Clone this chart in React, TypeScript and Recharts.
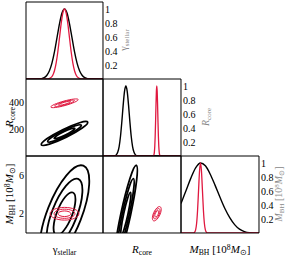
import React from 'react';
import { ComposedChart, Line, XAxis, YAxis } from 'recharts';

const W = 287;
const H = 257;
const COLS = [26, 103, 181, 259];
const ROWS = [2, 79, 156, 233];
const FONT = "'Liberation Serif', 'Times New Roman', serif";
const RED = '#e0183f';
const EPS = 0.01;

type P = [number, number];

// ---- domains & ticks ----
const gammaDomain: [number, number] = [0.954, 1.046];
const rcoreDomain: [number, number] = [0, 580];
const mbhDomain: [number, number] = [0, 8];
const densDomain: [number, number] = [0, 1.1];

const gammaLabels = [0.97, 1, 1.03];
const gammaMajor = [0.97, 1, 1.03];
const gammaMinor = [0.955, 0.96, 0.965, 0.97, 0.975, 0.98, 0.985, 0.99, 0.995, 1, 1.005, 1.01, 1.015, 1.02, 1.025, 1.03, 1.035, 1.04, 1.045];
const rcoreLabels = [200, 400];
const rcoreMajor = [200, 400];
const rcoreMinor = [25, 50, 75, 100, 125, 150, 175, 200, 225, 250, 275, 300, 325, 350, 375, 400, 425, 450, 475, 500, 525, 550, 575];
const mbhLabels = [2, 6];
const mbhMajor = [2, 4, 6];
const mbhMinor = [0.5, 1, 1.5, 2, 2.5, 3, 3.5, 4, 4.5, 5, 5.5, 6, 6.5, 7, 7.5];
const densLabels = [0.2, 0.4, 0.6, 0.8, 1];
const densMajor = [0.2, 0.4, 0.6, 0.8, 1];
const densMinor = [0.05, 0.1, 0.15, 0.2, 0.25, 0.3, 0.35, 0.4, 0.45, 0.5, 0.55, 0.6, 0.65, 0.7, 0.75, 0.8, 0.85, 0.9, 0.95, 1, 1.05];

// ---- marginal curves ----
const gammaBlack: P[] = [[0.954, 0], [0.97, 0.0026], [0.975, 0.016], [0.979, 0.054], [0.982, 0.118], [0.985, 0.226], [0.988, 0.386], [0.991, 0.586], [0.994, 0.788], [0.997, 0.942], [1.0, 1.0], [1.003, 0.942], [1.006, 0.788], [1.009, 0.586], [1.012, 0.386], [1.015, 0.226], [1.018, 0.118], [1.021, 0.054], [1.025, 0.016], [1.03, 0.0026], [1.046, 0]];
const gammaRed: P[] = [[0.954, 0], [0.98, 0.003], [0.983, 0.014], [0.986, 0.054], [0.988, 0.118], [0.99, 0.226], [0.992, 0.386], [0.994, 0.586], [0.996, 0.788], [0.998, 0.942], [1, 1], [1.002, 0.942], [1.004, 0.788], [1.006, 0.586], [1.008, 0.386], [1.01, 0.226], [1.012, 0.118], [1.014, 0.054], [1.017, 0.014], [1.02, 0.003], [1.046, 0]];
const rcoreBlack: P[] = [[0, 0], [85, 0.003], [100, 0.02], [110, 0.056], [120, 0.135], [130, 0.278], [140, 0.487], [150, 0.726], [160, 0.923], [170, 1], [180, 0.923], [190, 0.726], [200, 0.487], [210, 0.278], [220, 0.135], [230, 0.056], [240, 0.02], [255, 0.003], [580, 0]];
const rcoreRed: P[] = [[0, 0], [375, 0.004], [379, 0.02], [382, 0.056], [385, 0.135], [388, 0.278], [391, 0.487], [394, 0.726], [397, 0.923], [400, 1], [403, 0.923], [406, 0.726], [409, 0.487], [412, 0.278], [415, 0.135], [418, 0.056], [421, 0.02], [425, 0.004], [580, 0]];
const mbhBlack: P[] = [[0, 0.42], [0.5, 0.6], [1, 0.78], [1.5, 0.93], [2, 1], [2.5, 0.96], [3, 0.84], [3.5, 0.68], [4, 0.51], [4.5, 0.35], [5, 0.22], [5.5, 0.12], [6, 0.055], [6.5, 0.02], [7, 0.005], [8, 0]];
const mbhRed: P[] = [[0, 0], [1.3, 0.002], [1.4, 0.011], [1.5, 0.044], [1.6, 0.135], [1.7, 0.325], [1.8, 0.607], [1.9, 0.883], [2, 1], [2.1, 0.883], [2.2, 0.607], [2.3, 0.325], [2.4, 0.135], [2.5, 0.044], [2.6, 0.011], [2.7, 0.002], [8, 0]];

// ---- contours: gamma vs Rcore ----
const gRBlack: P[][] = [
  [[1.03068, 264.98], [1.02341, 215.05], [1.00244, 138.74], [0.98003, 80.75], [0.96932, 75.02], [0.97659, 124.95], [0.99756, 201.26], [1.01997, 259.25]],
  [[1.02221, 238.77], [1.01695, 202.62], [1.00176, 147.37], [0.98554, 105.38], [0.97779, 101.23], [0.98305, 137.38], [0.99824, 192.63], [1.01446, 234.62]],
  [[1.01356, 211.98], [1.01035, 189.91], [1.00108, 156.18], [0.99117, 130.55], [0.98644, 128.02], [0.98965, 150.09], [0.99892, 183.82], [1.00883, 209.45]],
];
const gRRed: P[][] = [
  [[1.01814, 428.51], [1.01339, 406.28], [1.0008, 378.61], [0.98774, 361.72], [0.98186, 365.49], [0.98661, 387.72], [0.9992, 415.39], [1.01226, 432.28]],
  [[1.01313, 419.81], [1.0097, 403.72], [1.00058, 383.69], [0.99113, 371.46], [0.98687, 374.19], [0.9903, 390.28], [0.99942, 410.31], [1.00887, 422.54]],
  [[1.00802, 410.93], [1.00592, 401.1], [1.00036, 388.87], [0.99458, 381.41], [0.99198, 383.07], [0.99408, 392.9], [0.99964, 405.13], [1.00542, 412.59]],
];
// ---- contours: gamma vs MBH ----
const gMBlack: P[][] = [
  [[1.02495, 7.533], [1.03269, 5.398], [1.02129, 1.2737], [0.99741, -2.425], [0.97505, -3.533], [0.96731, -1.398], [0.97871, 2.7263], [1.00259, 6.425]],
  [[1.01806, 6.006], [1.02367, 4.46], [1.01541, 1.4742], [0.99813, -1.204], [0.98194, -2.006], [0.97633, -0.46], [0.98459, 2.5258], [1.00187, 5.204]],
  [[1.01103, 4.4456], [1.01445, 3.5019], [1.00941, 1.679], [0.99886, 0.0441], [0.98897, -0.4456], [0.98555, 0.4981], [0.99059, 2.321], [1.00114, 3.9559]],
];
const gMRed: P[][] = [
  [[1.01906, 2.0], [1.01348, 2.5172], [1.0, 2.7315], [0.98652, 2.5172], [0.98094, 2.0], [0.98652, 1.4828], [1.0, 1.2685], [1.01348, 1.4828]],
  [[1.0138, 2.0], [1.00976, 2.3745], [1.0, 2.5296], [0.99024, 2.3745], [0.9862, 2.0], [0.99024, 1.6255], [1.0, 1.4704], [1.00976, 1.6255]],
  [[1.00843, 2.0], [1.00596, 2.2286], [1.0, 2.3233], [0.99404, 2.2286], [0.99157, 2.0], [0.99404, 1.7714], [1.0, 1.6767], [1.00596, 1.7714]],
];
// ---- contours: Rcore vs MBH ----
const rMBlack: P[][] = [
  [[256.0, 7.581], [258.7, 5.862], [209.4, 1.881], [137.1, -2.03], [84.0, -3.581], [81.3, -1.862], [130.6, 2.119], [202.9, 6.03]],
  [[232.27, 6.041], [234.2, 4.796], [198.54, 1.914], [146.15, -0.918], [107.73, -2.041], [105.8, -0.796], [141.46, 2.086], [193.85, 4.918]],
  [[208.02, 4.467], [209.2, 3.707], [187.42, 1.948], [155.44, 0.219], [131.98, -0.467], [130.8, 0.293], [152.58, 2.052], [184.56, 3.781]],
];
const rMRed: P[][] = [
  [[427.22, 2.8099], [436.52, 2.4593], [424.43, 1.8397], [398.03, 1.3141], [372.78, 1.1901], [363.48, 1.5407], [375.57, 2.1603], [401.97, 2.6859]],
  [[419.71, 2.5864], [426.44, 2.3325], [417.69, 1.8839], [398.57, 1.5034], [380.29, 1.4136], [373.56, 1.6675], [382.31, 2.1161], [401.43, 2.4966]],
  [[412.03, 2.358], [416.14, 2.203], [410.8, 1.9291], [399.13, 1.6968], [387.97, 1.642], [383.86, 1.797], [389.2, 2.0709], [400.87, 2.3032]],
];

const toPts = (a: P[]) => a.map(([x, y]) => ({ x, y }));
const tickFont = { fontSize: 10, fontFamily: FONT, fill: '#000' };

function frameAxes(xd: [number, number], yd: [number, number], xMinor: number[], xMajor: number[], yMinor: number[], yMajor: number[]) {
  const base = { type: 'number' as const, allowDataOverflow: true, stroke: '#000', interval: 0 as const, tick: false as const, mirror: true };
  return [
    <XAxis key="b1" xAxisId="b1" dataKey="x" orientation="bottom" domain={xd} ticks={xMinor} tickSize={2} height={EPS} {...base} />,
    <XAxis key="b2" xAxisId="b2" orientation="bottom" domain={xd} ticks={xMajor} tickSize={4} height={EPS} axisLine={false} {...base} />,
    <XAxis key="t1" xAxisId="t1" orientation="top" domain={xd} ticks={xMinor} tickSize={2} height={EPS} {...base} />,
    <XAxis key="t2" xAxisId="t2" orientation="top" domain={xd} ticks={xMajor} tickSize={4} height={EPS} axisLine={false} {...base} />,
    <YAxis key="l1" yAxisId="l1" dataKey="y" orientation="left" domain={yd} ticks={yMinor} tickSize={2} width={EPS} {...base} />,
    <YAxis key="l2" yAxisId="l2" orientation="left" domain={yd} ticks={yMajor} tickSize={4} width={EPS} axisLine={false} {...base} />,
    <YAxis key="r1" yAxisId="r1" orientation="right" domain={yd} ticks={yMinor} tickSize={2} width={EPS} {...base} />,
    <YAxis key="r2" yAxisId="r2" orientation="right" domain={yd} ticks={yMajor} tickSize={4} width={EPS} axisLine={false} {...base} />,
  ];
}

function labelAxis(side: 'bottom' | 'left' | 'right', d: [number, number], ticks: number[]) {
  const common = { type: 'number' as const, domain: d, ticks, interval: 0 as const, tickLine: false, axisLine: false, tickSize: 0, tick: tickFont, allowDataOverflow: true };
  if (side === 'bottom') return <XAxis key="lb" xAxisId="lb" orientation="bottom" height={EPS} tickMargin={4} {...common} />;
  if (side === 'left') return <YAxis key="ll" yAxisId="ll" orientation="left" width={EPS} tickMargin={2} {...common} />;
  return <YAxis key="lr" yAxisId="lr" orientation="right" width={EPS} tickMargin={2} {...common} />;
}

function contourLines(sets: P[][], color: string, width: number, prefix: string) {
  return sets.map((s, i) => (
    <Line key={prefix + i} data={toPts(s)} dataKey="y" xAxisId="b1" yAxisId="l1" type="basisClosed" stroke={color} strokeWidth={width} dot={false} activeDot={false} isAnimationActive={false} />
  ));
}

function curveLine(s: P[], color: string, width: number, key: string) {
  return <Line key={key} data={toPts(s)} dataKey="y" xAxisId="b1" yAxisId="l1" type="monotone" stroke={color} strokeWidth={width} dot={false} activeDot={false} isAnimationActive={false} />;
}

type PanelProps = {
  c: number; r: number;
  xd: [number, number]; yd: [number, number];
  xMinor: number[]; xMajor: number[]; yMinor: number[]; yMajor: number[];
  extra: React.ReactNode[]; lines: React.ReactNode[];
};

function Panel({ c, r, xd, yd, xMinor, xMajor, yMinor, yMajor, extra, lines }: PanelProps) {
  const left = COLS[c], right = COLS[c + 1], top = ROWS[r], bottom = ROWS[r + 1];
  return (
    <div style={{ position: 'absolute', left: 0, top: 0 }}>
      <ComposedChart width={W} height={H} margin={{ left, top, right: W - right, bottom: H - bottom }}>
        {frameAxes(xd, yd, xMinor, xMajor, yMinor, yMajor)}
        {extra}
        {lines}
      </ComposedChart>
    </div>
  );
}

const Sub = ({ children }: { children: React.ReactNode }) => (
  <span style={{ fontSize: '0.7em', position: 'relative', top: '0.3em' }}>{children}</span>
);
const Sup = ({ children }: { children: React.ReactNode }) => (
  <span style={{ fontSize: '0.7em', position: 'relative', top: '-0.4em' }}>{children}</span>
);

const gammaTitle = <>γ<Sub>stellar</Sub></>;
const rcoreTitle = <><i>R</i><Sub>core</Sub></>;
const mbhTitle = <><i>M</i><Sub>BH</Sub> [10<Sup>8</Sup><i>M</i><Sub>⊙</Sub>]</>;

const Title = ({ x, y, rot, color, size, children }: { x: number; y: number; rot: number; color: string; size: number; children: React.ReactNode }) => (
  <div style={{ position: 'absolute', left: x, top: y, transform: `translate(-50%, -50%) rotate(${rot}deg)`, whiteSpace: 'nowrap', fontFamily: FONT, fontSize: size, color, lineHeight: 1 }}>
    {children}
  </div>
);

export default function App() {
  return (
    <div style={{ position: 'absolute', left: 0, top: 0, width: W, height: H, background: '#fff', overflow: 'hidden' }}>
      <Panel c={0} r={0} xd={gammaDomain} yd={densDomain} xMinor={gammaMinor} xMajor={gammaMajor} yMinor={densMinor} yMajor={densMajor}
        extra={[labelAxis('right', densDomain, densLabels)]}
        lines={[curveLine(gammaBlack, '#000', 1.4, 'gb'), curveLine(gammaRed, RED, 1.3, 'gr')]} />
      <Panel c={0} r={1} xd={gammaDomain} yd={rcoreDomain} xMinor={gammaMinor} xMajor={gammaMajor} yMinor={rcoreMinor} yMajor={rcoreMajor}
        extra={[labelAxis('left', rcoreDomain, rcoreLabels)]}
        lines={[...contourLines(gRBlack, '#000', 1.8, 'grb'), ...contourLines(gRRed, RED, 1, 'grr')]} />
      <Panel c={1} r={1} xd={rcoreDomain} yd={densDomain} xMinor={rcoreMinor} xMajor={rcoreMajor} yMinor={densMinor} yMajor={densMajor}
        extra={[labelAxis('right', densDomain, densLabels)]}
        lines={[curveLine(rcoreBlack, '#000', 1.4, 'rb'), curveLine(rcoreRed, RED, 1.3, 'rr')]} />
      <Panel c={0} r={2} xd={gammaDomain} yd={mbhDomain} xMinor={gammaMinor} xMajor={gammaMajor} yMinor={mbhMinor} yMajor={mbhMajor}
        extra={[labelAxis('left', mbhDomain, mbhLabels), labelAxis('bottom', gammaDomain, gammaLabels)]}
        lines={[...contourLines(gMBlack, '#000', 1.8, 'gmb'), ...contourLines(gMRed, RED, 1, 'gmr')]} />
      <Panel c={1} r={2} xd={rcoreDomain} yd={mbhDomain} xMinor={rcoreMinor} xMajor={rcoreMajor} yMinor={mbhMinor} yMajor={mbhMajor}
        extra={[labelAxis('bottom', rcoreDomain, rcoreLabels)]}
        lines={[...contourLines(rMBlack, '#000', 1.8, 'rmb'), ...contourLines(rMRed, RED, 1, 'rmr')]} />
      <Panel c={2} r={2} xd={mbhDomain} yd={densDomain} xMinor={mbhMinor} xMajor={mbhMajor} yMinor={densMinor} yMajor={densMajor}
        extra={[labelAxis('right', densDomain, densLabels), labelAxis('bottom', mbhDomain, mbhLabels)]}
        lines={[curveLine(mbhBlack, '#000', 1.4, 'mb'), curveLine(mbhRed, RED, 1.3, 'mr')]} />

      <Title x={64.5} y={249} rot={0} color="#000" size={11}>{gammaTitle}</Title>
      <Title x={142} y={249} rot={0} color="#000" size={11}>{rcoreTitle}</Title>
      <Title x={220} y={249} rot={0} color="#000" size={11}>{mbhTitle}</Title>
      <Title x={9} y={117} rot={-90} color="#000" size={11}>{rcoreTitle}</Title>
      <Title x={9} y={194} rot={-90} color="#000" size={11}>{mbhTitle}</Title>
      <Title x={124} y={40} rot={-90} color="#888" size={10}>{gammaTitle}</Title>
      <Title x={206} y={117} rot={-90} color="#888" size={10}>{rcoreTitle}</Title>
      <Title x={279} y={194} rot={-90} color="#888" size={10}>{mbhTitle}</Title>
    </div>
  );
}
